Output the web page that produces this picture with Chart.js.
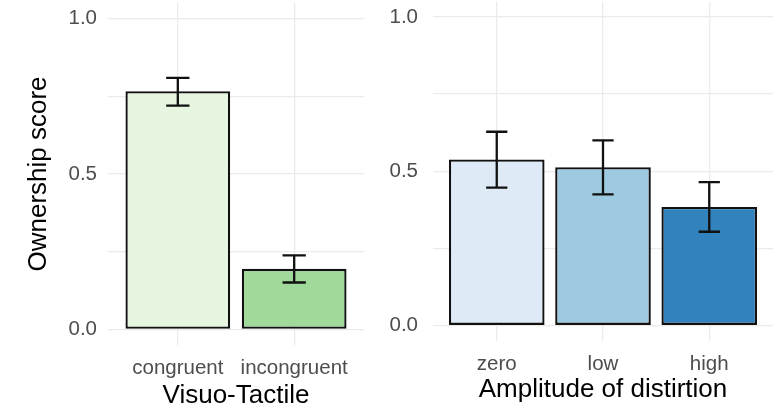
<!DOCTYPE html>
<html>
<head>
<meta charset="utf-8">
<script src="https://cdn.jsdelivr.net/npm/chart.js@4"></script>
<style>
  html, body { margin: 0; padding: 0; background: #fff; }
  #wrap { position: relative; width: 779px; height: 409px; overflow: hidden; }
  canvas { position: absolute; top: 0; }
  #left { left: 0; }
  #right { left: 385px; }
</style>
</head>
<body>
<div id="wrap">
  <canvas id="left" width="385" height="409"></canvas>
  <canvas id="right" width="394" height="409"></canvas>
</div>
<script>
// donnees
const touchCats = ['congruent', 'incongruent'];
const touchMeans = [0.766, 0.195];
const touchLow = [0.72, 0.151];
const touchHigh = [0.809, 0.238];

const distCats = ['zero', 'low', 'high'];
const distMeans = [0.538, 0.513, 0.384];
const distLow = [0.447, 0.425, 0.304];
const distHigh = [0.628, 0.600, 0.465];

const yTicks = [0, 0.25, 0.5, 0.75, 1];

const greens = ['#e5f5e0', '#a1d99b'];
const blues = ['#deebf7', '#9ecae1', '#3182bd'];

const FONT = "'Liberation Sans', Arial, sans-serif";
const gridColor = '#ebebeb';

// barres d'erreur dessinees par dessus les barres
const errorBars = {
  id: 'errorBars',
  afterDatasetsDraw(chart, args, opts) {
    const ctx = chart.ctx;
    const x = chart.scales.x, y = chart.scales.y;
    ctx.save();
    ctx.strokeStyle = '#111';
    ctx.lineWidth = 2.3;
    opts.low.forEach((lo, i) => {
      const px = x.getPixelForValue(i);
      const half = x.getPixelForValue(i + 0.1) - px;
      const yLo = y.getPixelForValue(lo);
      const yHi = y.getPixelForValue(opts.high[i]);
      ctx.beginPath();
      ctx.moveTo(px, yLo); ctx.lineTo(px, yHi);
      ctx.moveTo(px - half, yLo); ctx.lineTo(px + half, yLo);
      ctx.moveTo(px - half, yHi); ctx.lineTo(px + half, yHi);
      ctx.stroke();
    });
    ctx.restore();
  }
};

function makeChart(id, cats, means, low, high, colors, cfg) {
  return new Chart(document.getElementById(id), {
    type: 'bar',
    data: {
      datasets: [{
        data: cats.map((c, i) => ({ x: i, y: means[i] })),
        backgroundColor: colors,
        borderColor: '#111',
        borderWidth: 2.3,
        borderSkipped: false,
        categoryPercentage: 1,
        barPercentage: 0.9
      }]
    },
    options: {
      responsive: false,
      animation: false,
      events: [],
      layout: { padding: cfg.padding },
      plugins: {
        legend: { display: false },
        tooltip: { enabled: false },
        errorBars: { low: low, high: high }
      },
      scales: {
        x: {
          type: 'linear',
          offset: false,
          min: -0.6,
          max: cats.length - 1 + 0.6,
          afterBuildTicks: s => { s.ticks = cats.map((c, i) => ({ value: i })); },
          afterFit: s => { s.height = cfg.xHeight; s.paddingLeft = 0; s.paddingRight = 0; },
          border: { display: false },
          grid: { color: gridColor, lineWidth: 1.3, drawTicks: false, offset: false },
          ticks: {
            padding: cfg.tickPad,
            color: '#4d4d4d',
            font: { family: FONT, size: 20.5 },
            callback: v => cats[Math.round(v)]
          },
          title: {
            display: true,
            text: cfg.xTitle,
            color: '#000',
            font: { family: FONT, size: 26, lineHeight: 1 },
            padding: { top: 0, bottom: cfg.xTitlePad }
          }
        },
        y: {
          min: -0.05,
          max: 1.05,
          afterBuildTicks: s => { s.ticks = yTicks.map(v => ({ value: v })); },
          afterFit: s => { s.width = cfg.yWidth; s.paddingTop = 0; s.paddingBottom = 0; },
          border: { display: false },
          grid: { color: gridColor, lineWidth: 1.3, drawTicks: false },
          ticks: {
            padding: cfg.yTickPad,
            color: '#4d4d4d',
            font: { family: FONT, size: 20.5 },
            callback: v => (v === 0 || v === 0.5 || v === 1) ? v.toFixed(1) : ''
          },
          title: {
            display: !!cfg.yTitle,
            text: cfg.yTitle,
            color: '#000',
            font: { family: FONT, size: 26, lineHeight: 1 },
            padding: { top: cfg.yTitlePad, bottom: 0 }
          }
        }
      }
    },
    plugins: [errorBars]
  });
}

makeChart('left', touchCats, touchMeans, touchLow, touchHigh, greens, {
  padding: { left: 0, right: 21, top: 3, bottom: 0 },
  xHeight: 64, yWidth: 108, tickPad: 11, yTickPad: 11,
  xTitle: 'Visuo-Tactile', xTitlePad: 0,
  yTitle: 'Ownership score', yTitlePad: 26
});

makeChart('right', distCats, distMeans, distLow, distHigh, blues, {
  padding: { left: 0, right: 6, top: 1.5, bottom: 0 },
  xHeight: 68, yWidth: 48, tickPad: 11, yTickPad: 15,
  xTitle: 'Amplitude of distirtion', xTitlePad: 6,
  yTitle: ''
});
</script>
</body>
</html>
